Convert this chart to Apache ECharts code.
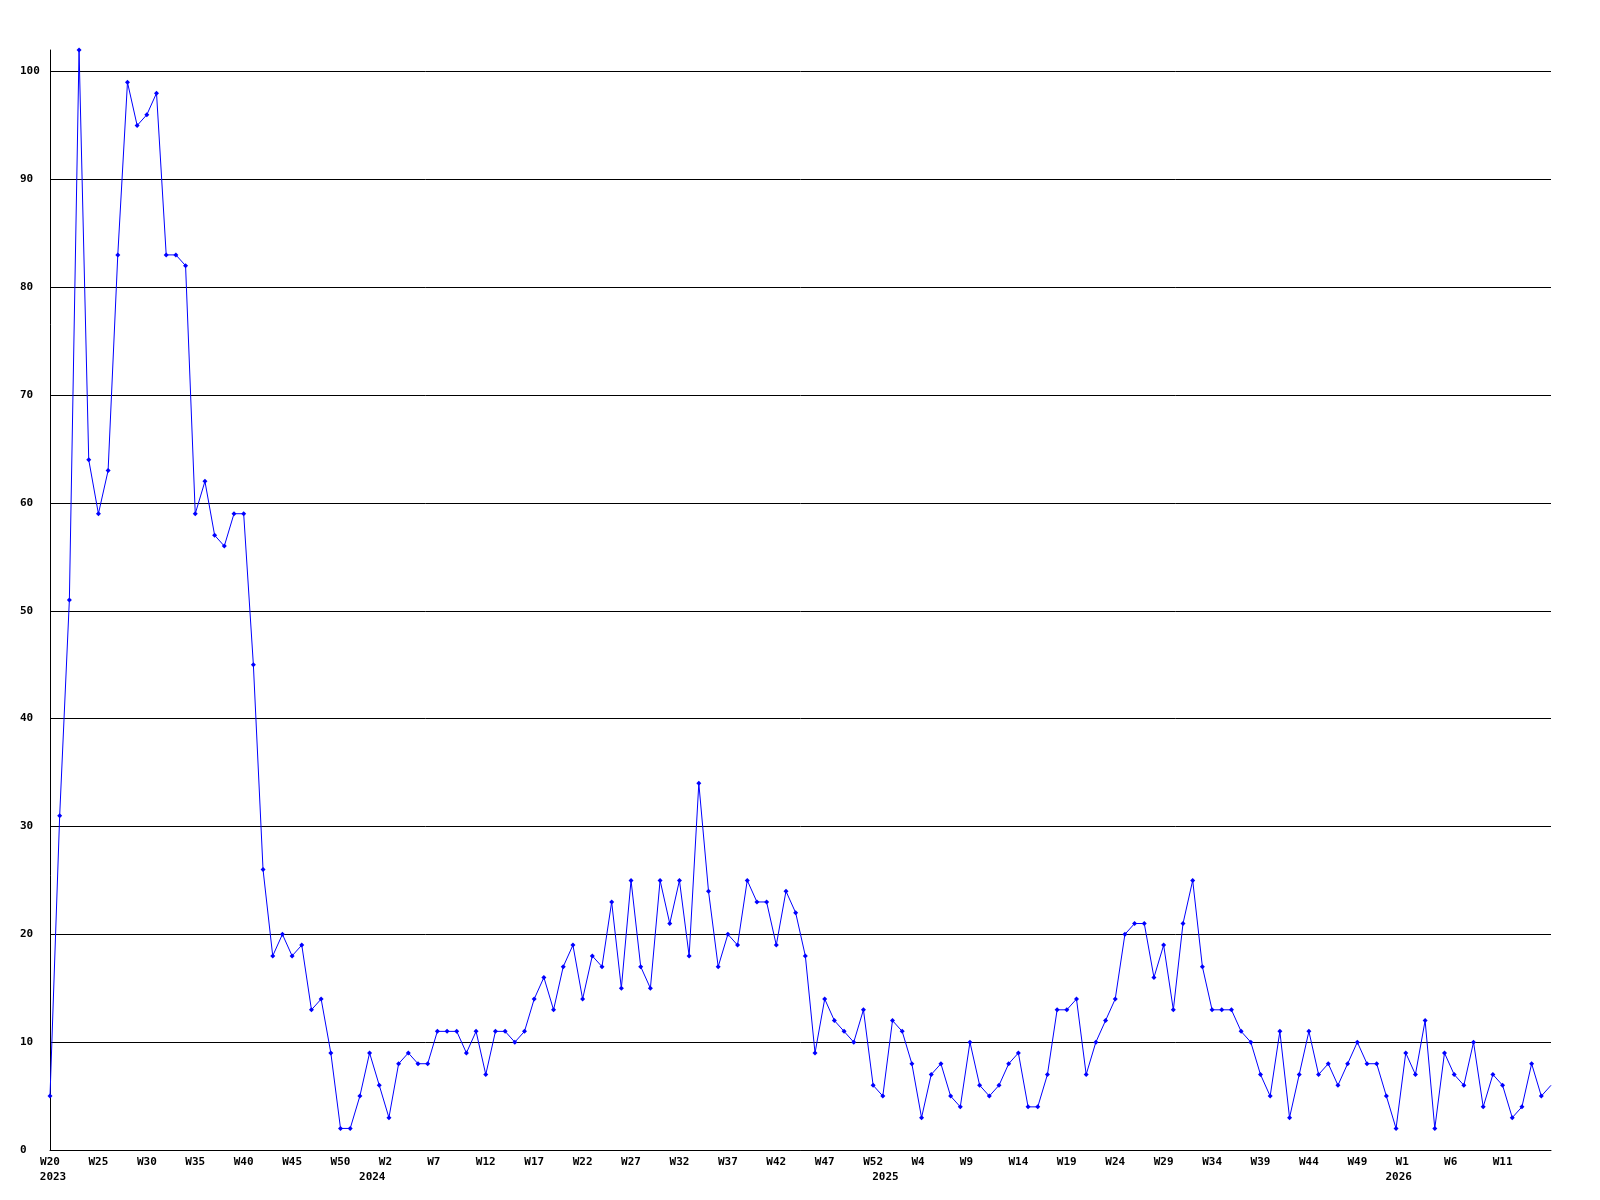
<!DOCTYPE html>
<html>
<head>
<meta charset="utf-8">
<script src="https://cdn.jsdelivr.net/npm/echarts@6/dist/echarts.min.js"></script>
<style>
html,body{margin:0;padding:0;background:#fff;}
#chart{width:1600px;height:1200px;}
</style>
</head>
<body>
<div id="chart"></div>
<script>
// Week ranges shown on the axis (year, first week, last week)
const weekRanges = [[2023, 20, 53], [2024, 1, 53], [2025, 1, 53], [2026, 1, 16]];

// Weekly counts, 2023 W20 .. 2026 W16
const values2023 = [5, 31, 51, 102, 64, 59, 63, 83, 99, 95, 96, 98, 83, 83, 82, 59, 62, 57, 56, 59, 59, 45, 26, 18, 20, 18, 19, 13, 14, 9, 2, 2, 5, 9];
const values2024 = [6, 3, 8, 9, 8, 8, 11, 11, 11, 9, 11, 7, 11, 11, 10, 11, 14, 16, 13, 17, 19, 14, 18, 17, 23, 15, 25, 17, 15, 25, 21, 25, 18, 34, 24, 17, 20, 19, 25, 23, 23, 19, 24, 22, 18, 9, 14, 12, 11, 10, 13, 6, 5];
const values2025 = [12, 11, 8, 3, 7, 8, 5, 4, 10, 6, 5, 6, 8, 9, 4, 4, 7, 13, 13, 14, 7, 10, 12, 14, 20, 21, 21, 16, 19, 13, 21, 25, 17, 13, 13, 13, 11, 10, 7, 5, 11, 3, 7, 11, 7, 8, 6, 8, 10, 8, 8, 5, 2];
const values2026 = [9, 7, 12, 2, 9, 7, 6, 10, 4, 7, 6, 3, 4, 8, 5, 6];

const yTicks = [0, 10, 20, 30, 40, 50, 60, 70, 80, 90, 100];

// build categories
const categories = [];
const yearStart = {};
weekRanges.forEach(([y, a, b]) => {
  for (let w = a; w <= b; w++) {
    if (w === a) yearStart[categories.length] = y;
    categories.push('W' + w);
  }
});
const values = values2023.concat(values2024, values2025, values2026);
const lastIdx = values.length - 1;

const chart = echarts.init(document.getElementById('chart'), null, {renderer: 'canvas'});
const fontCommon = {fontFamily: 'DejaVu Sans Mono', fontWeight: 'bold', fontSize: 11, color: '#000'};

chart.setOption({
  animation: false,
  backgroundColor: '#fff',
  grid: {left: 50, right: 49, top: 50, bottom: 50},
  xAxis: {
    type: 'category',
    data: categories,
    boundaryGap: false,
    axisLine: {show: true, lineStyle: {color: '#000', width: 1}},
    axisTick: {show: false},
    splitLine: {show: false},
    axisLabel: Object.assign({}, fontCommon, {
      margin: 5,
      lineHeight: 15,
      verticalAlign: 'top',
      interval: (i) => (i % 5 === 0 && i !== lastIdx) || yearStart[i] !== undefined,
      formatter: (val, i) => {
        let wk = '';
        if (i % 5 === 0 && i !== lastIdx) {
          wk = val.length <= 2 ? '{s|' + val + '}' : '{w|' + val + '}';
        }
        if (yearStart[i] !== undefined) {
          const style = i === 0 ? 'y0' : 'y';
          return wk + '\n{' + style + '|' + yearStart[i] + '}';
        }
        return wk;
      },
      rich: {
        w: Object.assign({}, fontCommon, {lineHeight: 15}),
        s: Object.assign({}, fontCommon, {lineHeight: 15, padding: [0, 7, 0, 0]}),
        y: Object.assign({}, fontCommon, {lineHeight: 15, padding: [0, 14, 0, 0]}),
        y0: Object.assign({}, fontCommon, {lineHeight: 15, padding: [0, 0, 0, 6]})
      }
    })
  },
  yAxis: {
    type: 'value',
    min: yTicks[0],
    max: 102,
    interval: 10,
    axisLine: {show: true, lineStyle: {color: '#000', width: 1}},
    axisTick: {show: false},
    splitLine: {show: true, showMaxLine: false, lineStyle: {color: '#000', width: 1}},
    axisLabel: Object.assign({}, fontCommon, {
      align: 'left',
      margin: 30,
      showMaxLabel: false,
      formatter: (v) => yTicks.indexOf(v) >= 0 ? String(v) : ''
    })
  },
  series: [{
    type: 'line',
    data: values.map((v, i) => i === lastIdx ? {value: v, symbol: 'none'} : v),
    lineStyle: {color: '#0000ff', width: 1},
    itemStyle: {color: '#0000ff'},
    symbol: 'diamond',
    symbolSize: 5,
    showAllSymbol: true,
    clip: false
  }]
});
</script>
</body>
</html>
